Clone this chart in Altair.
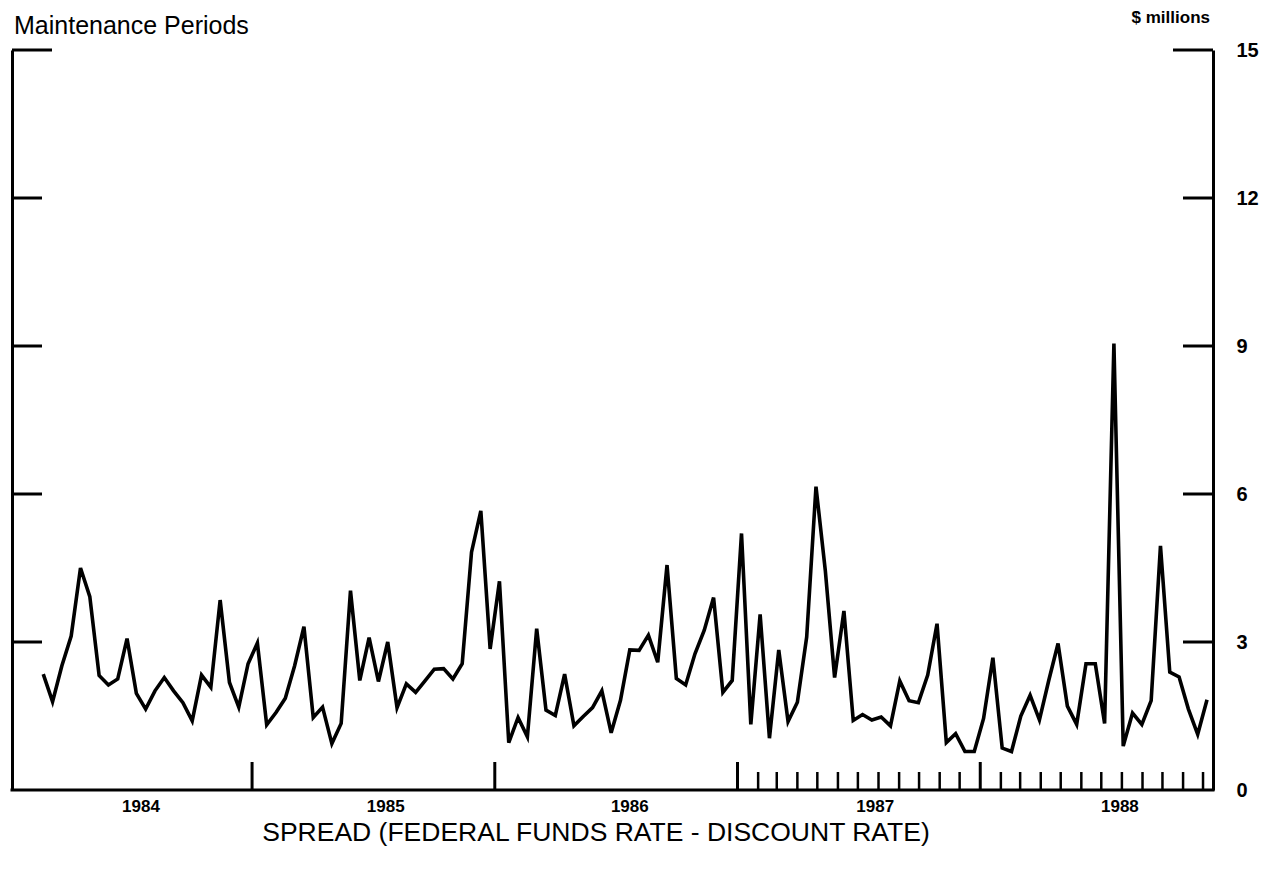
import altair as alt
import pandas as pd

# ---- data (biweekly maintenance periods) ----
spread_values = [
    2.35, 1.79, 2.52, 3.12, 4.50, 3.92, 2.32, 2.13, 2.25, 3.07,
    1.96, 1.64, 2.01, 2.28, 2.01, 1.77, 1.40, 2.33, 2.08, 3.85,
    2.18, 1.68, 2.56, 2.98, 1.32, 1.57, 1.86, 2.52, 3.31, 1.47,
    1.68, 0.94, 1.35, 4.04, 2.22, 3.09, 2.20, 3.00, 1.67, 2.15,
    1.98, 2.21, 2.45, 2.46, 2.25, 2.56, 4.82, 5.66, 2.86, 4.23,
    0.96, 1.47, 1.08, 3.27, 1.62, 1.51, 2.35, 1.30, 1.49, 1.67,
    2.01, 1.16, 1.82, 2.84, 2.83, 3.14, 2.59, 4.56, 2.26, 2.13,
    2.76, 3.24, 3.90, 1.98, 2.22, 5.20, 1.33, 3.56, 1.05, 2.84,
    1.39, 1.78, 3.10, 6.15, 4.45, 2.28, 3.63, 1.41, 1.53, 1.42,
    1.48, 1.30, 2.21, 1.81, 1.77, 2.33, 3.37, 0.96, 1.14, 0.78,
    0.78, 1.45, 2.68, 0.85, 0.78, 1.50, 1.92, 1.42, 2.22, 2.97,
    1.70, 1.33, 2.56, 2.56, 1.35, 9.05, 0.89, 1.56, 1.33, 1.81,
    4.95, 2.39, 2.29, 1.64, 1.13, 1.83,
]
first_period = "1984-02-22"
period_freq = "14D"

year_labels = ["1984", "1985", "1986", "1987", "1988"]
year_label_dates = ["1984-07-18", "1985-07-21", "1986-07-23", "1987-07-27", "1988-07-29"]
year_starts = ["1985-01-01", "1986-01-01", "1987-01-01", "1988-01-01"]
month_ticks = [
    "1987-02-01", "1987-03-01", "1987-04-01", "1987-05-01", "1987-06-01",
    "1987-07-01", "1987-08-01", "1987-09-01", "1987-10-01", "1987-11-01",
    "1987-12-01",
    "1988-02-01", "1988-03-01", "1988-04-01", "1988-05-01", "1988-06-01",
    "1988-07-01", "1988-08-01", "1988-09-01", "1988-10-01", "1988-11-01",
    "1988-12-01",
]
y_ticks_inner = [3, 6, 9, 12]
y_tick_top = [15]
y_labels = [0, 3, 6, 9, 12, 15]

title_left = "Maintenance Periods"
unit_label = "$ millions"
x_title = "SPREAD (FEDERAL FUNDS RATE - DISCOUNT RATE)"

# ---- tables ----
dates = pd.date_range(first_period, periods=len(spread_values), freq=period_freq)
df = pd.DataFrame({"date": dates.strftime("%Y-%m-%d"), "value": spread_values})
df_years = pd.DataFrame({"d": year_starts})
df_months = pd.DataFrame({"d": month_ticks})
df_inner = pd.DataFrame({"v": y_ticks_inner})
df_top = pd.DataFrame({"v": y_tick_top})
df_ylab = pd.DataFrame({"d": year_label_dates, "t": year_labels})

W, H = 1201, 740
FONT = "Liberation Sans"

x_scale = alt.Scale(
    domain=[alt.DateTime(year=1984, month=1, date=6),
            alt.DateTime(year=1988, month=12, date=16)],
    nice=False,
)
y_scale = alt.Scale(domain=[0, 15], nice=False, zero=True)

line = alt.Chart(df).mark_line(color="black", strokeWidth=3.6).encode(
    x=alt.X("date:T", scale=x_scale, axis=None),
    y=alt.Y(
        "value:Q",
        scale=y_scale,
        axis=alt.Axis(orient="left", labels=False, ticks=False, grid=False,
                      domainColor="black", domainWidth=3, title=None),
    ),
)

right_ticks = alt.Chart(df_inner).mark_rule(color="black", strokeWidth=3).encode(
    y=alt.Y(
        "v:Q",
        scale=y_scale,
        axis=alt.Axis(orient="right", values=y_labels, ticks=False, grid=False,
                      domainColor="black", domainWidth=3, title=None,
                      labelPadding=23, labelAlign="left", labelFontSize=20,
                      labelFontWeight="bold", labelColor="black", labelFont=FONT),
    ),
    x=alt.value(W - 30),
    x2=alt.value(W),
)
right_top = alt.Chart(df_top).mark_rule(color="black", strokeWidth=3).encode(
    y=alt.Y("v:Q", scale=y_scale, axis=None),
    x=alt.value(W - 40),
    x2=alt.value(W),
)
left_ticks = alt.Chart(df_inner).mark_rule(color="black", strokeWidth=3).encode(
    y=alt.Y("v:Q", scale=y_scale, axis=None),
    x=alt.value(0),
    x2=alt.value(30),
)
left_top = alt.Chart(df_top).mark_rule(color="black", strokeWidth=3).encode(
    y=alt.Y("v:Q", scale=y_scale, axis=None),
    x=alt.value(0),
    x2=alt.value(40),
)
year_ticks = alt.Chart(df_years).mark_rule(color="black", strokeWidth=3).encode(
    x=alt.X("d:T", scale=x_scale, axis=None),
    y=alt.value(H - 28),
    y2=alt.value(H),
)
mon_ticks = alt.Chart(df_months).mark_rule(color="black", strokeWidth=2.5).encode(
    x=alt.X("d:T", scale=x_scale, axis=None),
    y=alt.value(H - 18),
    y2=alt.value(H),
)
baseline = alt.Chart(df_inner.head(1)).mark_rule(color="black", strokeWidth=3).encode(
    x=alt.value(-1.5),
    x2=alt.value(W + 1.5),
    y=alt.value(H),
)

year_text = alt.Chart(df_ylab).mark_text(
    font=FONT, fontSize=17, fontWeight="bold", align="center",
    baseline="top", color="black"
).encode(
    x=alt.X("d:T", scale=x_scale, axis=None),
    y=alt.value(H + 9),
    text="t:N",
)

x_title_text = alt.Chart(pd.DataFrame({"t": [x_title]})).mark_text(
    font=FONT, fontSize=26.5, align="center", baseline="alphabetic", color="black"
).encode(text="t:N", x=alt.value(584), y=alt.value(H + 51))

top_title = alt.Chart(pd.DataFrame({"t": [title_left]})).mark_text(
    font=FONT, fontSize=25, align="left", baseline="top", color="black"
).encode(text="t:N", x=alt.value(2), y=alt.value(-36))

unit_text = alt.Chart(pd.DataFrame({"t": [unit_label]})).mark_text(
    font=FONT, fontSize=17, fontWeight="bold", align="right",
    baseline="alphabetic", color="black"
).encode(text="t:N", x=alt.value(1198), y=alt.value(-27))

chart = alt.layer(
    line, right_ticks, right_top, left_ticks, left_top, year_ticks, mon_ticks,
    baseline, year_text, x_title_text, top_title, unit_text,
).resolve_axis(y="independent").properties(
    width=W, height=H,
    padding={"left": 4, "top": 42, "right": 47, "bottom": 70},
    autosize=alt.AutoSizeParams(type="none"),
    background="white",
).configure(font=FONT).configure_view(stroke=None)

chart.save("out.html", embed_options={"renderer": "svg", "actions": False})
